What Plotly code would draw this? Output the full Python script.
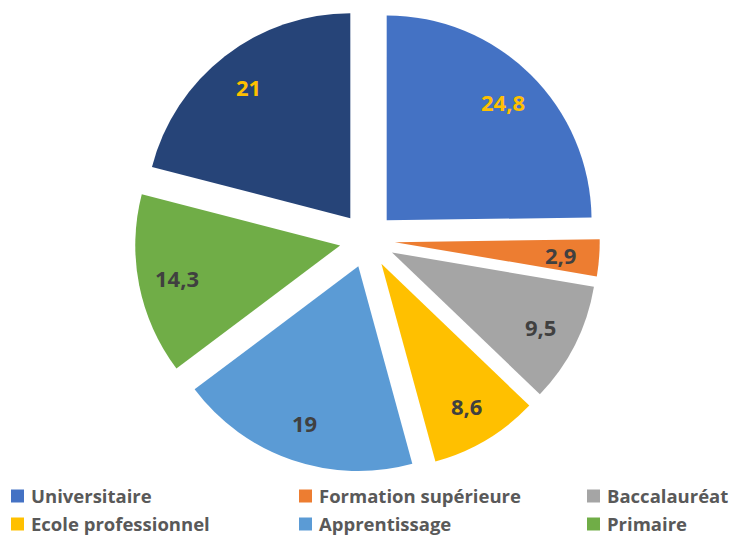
import math
import plotly.graph_objects as go

# Répartition par niveau de formation (%)
categories = ["Universitaire", "Formation supérieure", "Baccalauréat",
              "Ecole professionnel", "Apprentissage", "Primaire", "Sans diplôme"]
values = [24.8, 2.9, 9.5, 8.6, 19, 14.3, 21]
colors = ["#4472C4", "#ED7D31", "#A5A5A5", "#FFC000", "#5B9BD5", "#70AD47", "#264478"]
label_colors = ["#FFC000", "#404040", "#404040", "#404040", "#404040", "#404040", "#FFC000"]
legend_items = categories[:6]

FONT = "Open Sans"
W, H = 736, 537
PULL = 0.135
DOMAIN_X = [0.183, 0.815]
DOMAIN_Y = [0.120, 0.986]
LABEL_RADIUS = 0.81  # data labels sit at this fraction of the radius, from the pulled tip

labels_text = [f"{v:g}".replace(".", ",") for v in values]

fig = go.Figure()
fig.add_trace(go.Pie(
    labels=categories,
    values=values,
    textinfo="none",
    marker=dict(colors=colors, line=dict(width=0)),
    sort=False,
    direction="clockwise",
    rotation=0,
    pull=[PULL] * len(values),
    domain=dict(x=DOMAIN_X, y=DOMAIN_Y),
    showlegend=False,
    hoverinfo="label+value",
))

# Data labels along each slice's bisector (same geometry as the pie: centre and
# radius follow from the domain and the pull)
dom_w = (DOMAIN_X[1] - DOMAIN_X[0]) * W
dom_h = (DOMAIN_Y[1] - DOMAIN_Y[0]) * H
cx_px = (DOMAIN_X[0] + DOMAIN_X[1]) / 2 * W
cy_px = (DOMAIN_Y[0] + DOMAIN_Y[1]) / 2 * H
radius = min(dom_w, dom_h) / (2 * (1 + PULL))
total = sum(values)

annotations = []
cum = 0.0
for v, txt, col in zip(values, labels_text, label_colors):
    mid = (cum + v / 2) / total * 2 * math.pi
    cum += v
    d = (PULL + LABEL_RADIUS) * radius
    x = cx_px + d * math.sin(mid)
    y = cy_px + d * math.cos(mid)
    annotations.append(dict(
        xref="paper", yref="paper", x=x / W, y=y / H,
        xanchor="center", yanchor="middle", showarrow=False,
        text=f"<b>{txt}</b>",
        font=dict(family=FONT, size=22, color=col),
    ))

# Legend drawn as coloured squares and labels, three columns on two rows
col_x = [11, 299, 587]
row_y = [496, 524]
SQ = 13
shapes = []
for i, name in enumerate(legend_items):
    lx = col_x[i % 3]
    ly = row_y[i // 3]
    shapes.append(dict(
        type="rect", xref="paper", yref="paper",
        x0=lx / W, x1=(lx + SQ) / W,
        y0=1 - (ly + SQ / 2) / H, y1=1 - (ly - SQ / 2) / H,
        fillcolor=colors[i], line=dict(width=0),
    ))
    annotations.append(dict(
        xref="paper", yref="paper",
        x=(lx + 18) / W, y=1 - (ly - 1) / H,
        xanchor="left", yanchor="middle",
        text=f"<b>{name}</b>", showarrow=False,
        font=dict(family=FONT, size=18.5, color="#595959"),
    ))

fig.update_layout(
    width=W, height=H,
    margin=dict(l=0, r=0, t=0, b=0),
    paper_bgcolor="white",
    plot_bgcolor="white",
    shapes=shapes,
    annotations=annotations,
)

fig.write_html("out.html")
